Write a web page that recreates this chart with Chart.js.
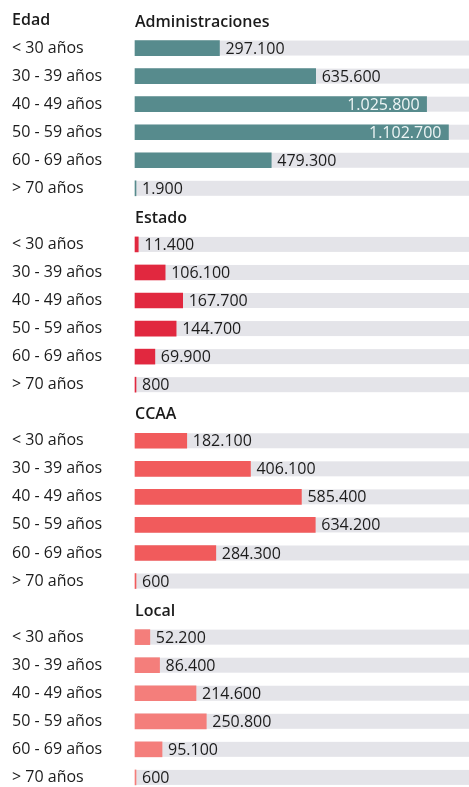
<!DOCTYPE html>
<html lang="es">
<head>
<meta charset="utf-8">
<title>Empleados públicos por edad</title>
<script src="https://cdn.jsdelivr.net/npm/chart.js@4.4.1/dist/chart.umd.min.js"></script>
<style>
  body { margin: 0; background: #ffffff; }
  #wrap { width: 469px; height: 787px; position: relative; }
</style>
</head>
<body>
<div id="wrap"><canvas id="edad"></canvas></div>
<script>
// Data
const kategoriUsia = ["< 30 años", "30 - 39 años", "40 - 49 años", "50 - 59 años", "60 - 69 años", "> 70 años"];
const grupos = ["Administraciones", "Estado", "CCAA", "Local"];
const administraciones = [297100, 635600, 1025800, 1102700, 479300, 1900];
const estado = [11400, 106100, 167700, 144700, 69900, 800];
const ccaa = [182100, 406100, 585400, 634200, 284300, 600];
const local = [52200, 86400, 214600, 250800, 95100, 600];

const warnaGrupo = ["#578b8d", "#e1283f", "#f15b5c", "#f47e7b"];

// gabungkan jadi satu daftar baris: 1 baris judul + 6 baris usia per grup
const seriesGrupo = [administraciones, estado, ccaa, local];
const labels = [];
const nilai = [];
const warna = [];
const barisJudul = [];
seriesGrupo.forEach((series, g) => {
  barisJudul.push(labels.length);
  labels.push(g === 0 ? "Edad" : "");
  nilai.push(null);
  warna.push(warnaGrupo[g]);
  series.forEach((v, i) => {
    labels.push(kategoriUsia[i]);
    nilai.push(v);
    warna.push(warnaGrupo[g]);
  });
});

function formatAngka(v) {
  return String(v).replace(/\B(?=(\d{3})+(?!\d))/g, ".");
}

const pluginBaris = {
  id: "pluginBaris",
  beforeDatasetsDraw(chart) {
    // track abu-abu di belakang bar
    const { ctx, chartArea } = chart;
    const meta = chart.getDatasetMeta(0);
    ctx.save();
    ctx.fillStyle = "#e4e4e9";
    meta.data.forEach((bar, i) => {
      if (nilai[i] === null) return;
      ctx.fillRect(chartArea.left, bar.y - bar.height / 2, chartArea.right - chartArea.left, bar.height);
    });
    ctx.restore();
  },
  afterDatasetsDraw(chart) {
    const { ctx, chartArea } = chart;
    const yScale = chart.scales.y;
    const meta = chart.getDatasetMeta(0);
    ctx.save();
    ctx.textBaseline = "middle";

    // judul grup
    ctx.font = "600 16px 'Open Sans'";
    ctx.fillStyle = "#1b1b1b";
    ctx.textAlign = "left";
    barisJudul.forEach((idx, g) => {
      ctx.fillText(grupos[g], chartArea.left, yScale.getPixelForValue(idx) + 2);
    });

    // label angka
    ctx.font = "16px 'Open Sans'";
    meta.data.forEach((bar, i) => {
      if (nilai[i] === null) return;
      const teks = formatAngka(nilai[i]);
      const w = ctx.measureText(teks).width;
      if (bar.x + 6 + w > chartArea.right - 4) {
        ctx.textAlign = "right";
        ctx.fillStyle = "#eef5f5";
        ctx.fillText(teks, bar.x - 7, bar.y + 1);
      } else {
        ctx.textAlign = "left";
        ctx.fillStyle = "#1c1c1c";
        ctx.fillText(teks, bar.x + 6, bar.y + 1);
      }
    });
    ctx.restore();
  },
};

const edad = document.getElementById("edad").getContext("2d");
const edadChart = new Chart(edad, {
  type: "bar",
  data: {
    labels: labels,
    datasets: [
      {
        label: "Empleados",
        data: nilai,
        backgroundColor: warna,
        barThickness: 15,
        minBarLength: 1,
        clip: false,
      },
    ],
  },
  options: {
    indexAxis: "y",
    responsive: true,
    maintainAspectRatio: false,
    animation: false,
    layout: {
      padding: { left: 12, right: 0, top: 20, bottom: 7 },
    },
    scales: {
      x: {
        display: false,
        min: 0,
        max: 1175000,
      },
      y: {
        offset: false,
        grid: { display: false },
        border: { display: false },
        ticks: {
          autoSkip: false,
          crossAlign: "far",
          padding: 0,
          color: "#1b1b1b",
          font: (c) => ({
            family: "Open Sans",
            size: 16,
            weight: c.index === 0 ? "600" : "normal",
          }),
        },
        afterFit: (scale) => {
          scale.width = 123;
        },
      },
    },
    plugins: {
      legend: { display: false },
      tooltip: { enabled: false },
    },
  },
  plugins: [pluginBaris],
});
</script>
</body>
</html>
